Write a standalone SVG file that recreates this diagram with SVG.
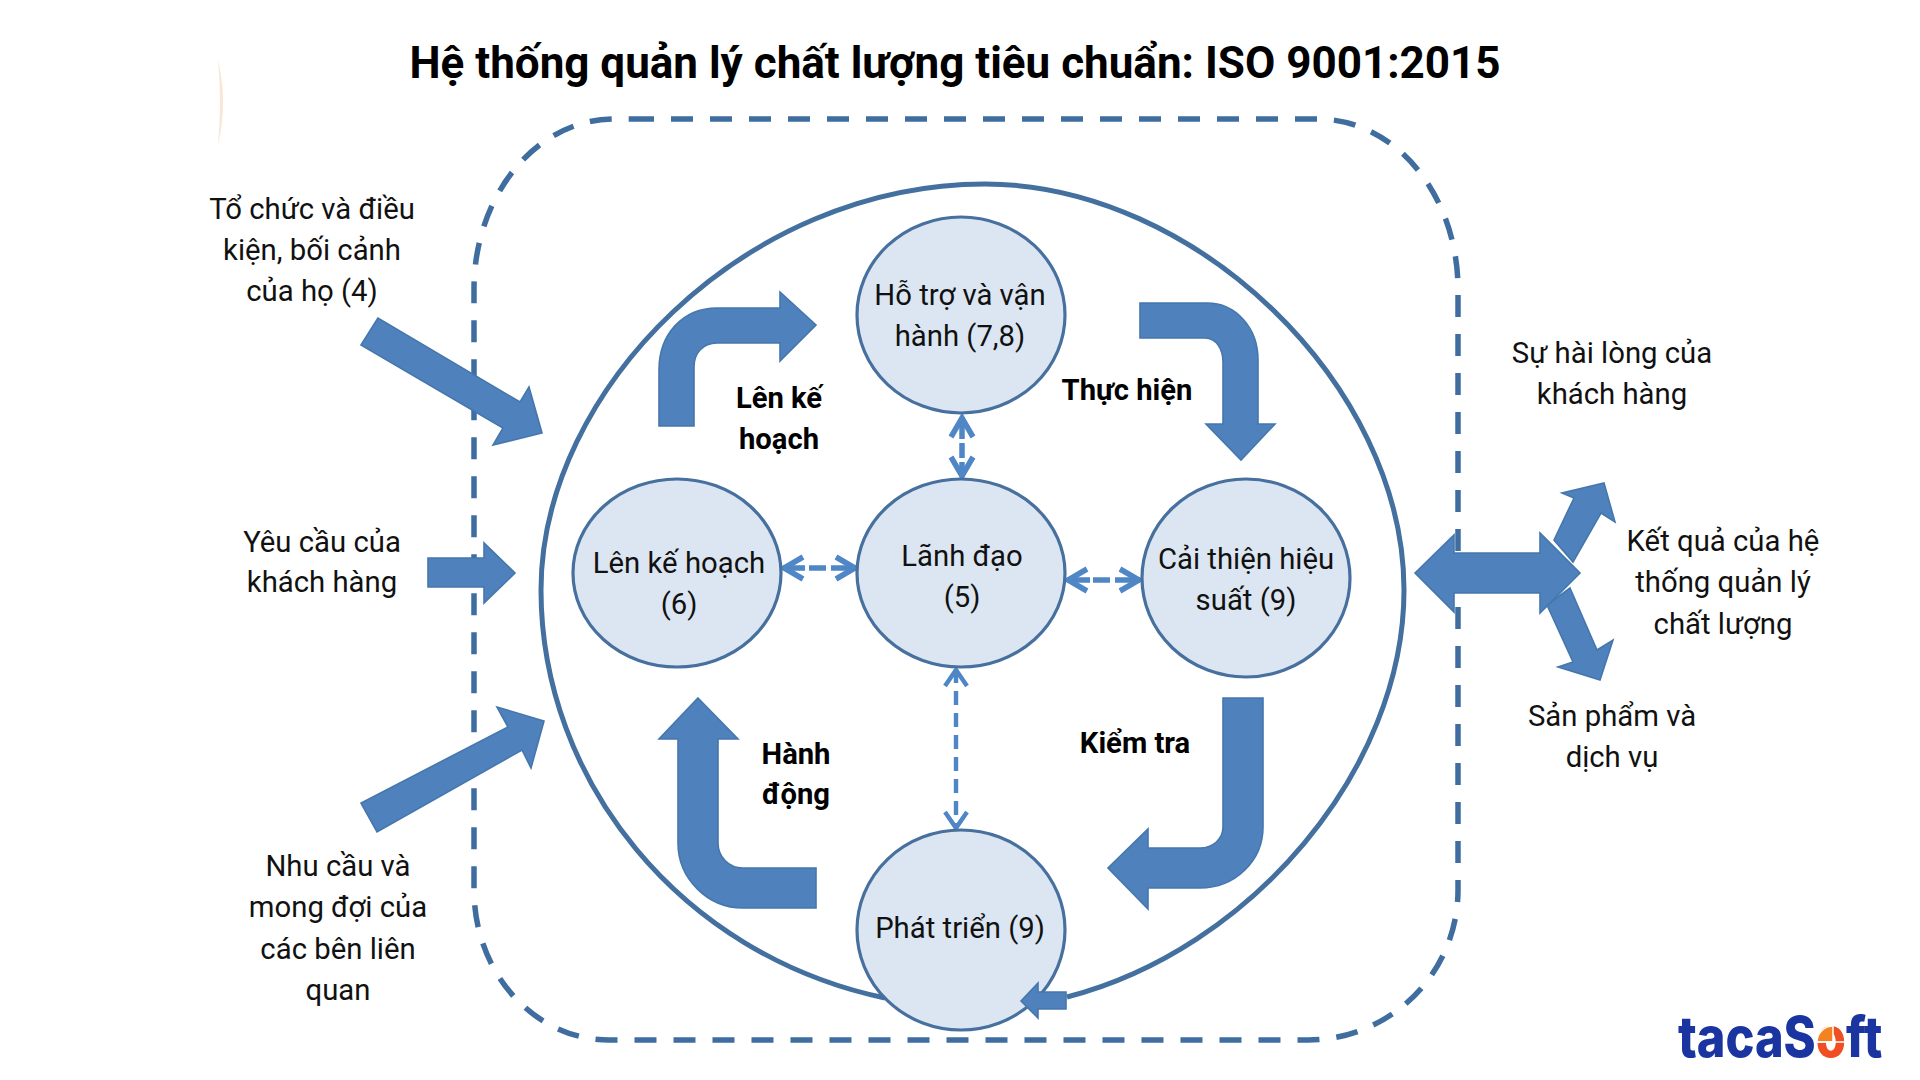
<svg xmlns="http://www.w3.org/2000/svg" width="1920" height="1080" viewBox="0 0 1920 1080">
<style>
text{font-family:Roboto,"Noto Sans",sans-serif;font-size:29.3px;fill:#111;text-anchor:middle}
.b{font-weight:700;fill:#000;font-size:29.2px}
.t{font-weight:700;font-size:44px;fill:#000}
.n{fill:#dce6f2;stroke:#47709f;stroke-width:3.2}
.a{fill:#4f81bd;stroke:#4577ad;stroke-width:1.6;stroke-linejoin:miter}
.d{fill:none;stroke:#4f86c6;stroke-width:5.5;marker-start:url(#h);marker-end:url(#h)}
.l{fill:none;stroke:#4f86c6;stroke-width:4.4;stroke-dasharray:14 8;marker-start:url(#k);marker-end:url(#k)}
</style>
<defs>
<marker id="h" viewBox="-24 -15 28 30" refX="0" refY="0" markerUnits="userSpaceOnUse" markerWidth="28" markerHeight="30" orient="auto-start-reverse">
<path d="M-20,-11 L-1,0 L-20,11" fill="none" stroke="#4f86c6" stroke-width="5.5"/>
</marker>
<marker id="k" viewBox="-24 -15 28 30" refX="0" refY="0" markerUnits="userSpaceOnUse" markerWidth="28" markerHeight="30" orient="auto-start-reverse">
<path d="M-17,-11 L-1,0 L-17,11" fill="none" stroke="#4f86c6" stroke-width="4.4"/>
</marker>
</defs>
<rect width="1920" height="1080" fill="#fff"/>
<path d="M218,60 Q228,102 218,145 Q222,102 218,60Z" fill="#fae6d4"/>
<text class="t" x="955" y="78">Hệ thống quản lý chất lượng tiêu chuẩn: ISO 9001:2015</text>
<g id="boundary"><path d="M632,119 H1318 A140,170 0 0 1 1458,289 V890 A150,150 0 0 1 1308,1040 H609 A135,150 0 0 1 474,890 V289 A140,170 0 0 1 614,119 H632Z" fill="none" stroke="#3f6d9f" stroke-width="5.5" stroke-dasharray="22 17"/></g>
<g id="system"><path d="M885,998 C680,955 541,780 541,590 C541,390 745,184 985,184 C1195,184 1404,385 1404,590 C1404,770 1250,950 1067,997" fill="none" stroke="#43709f" stroke-width="5"/></g>
<g id="connectors">
<path class="a" d="M378,318 L361,345 L503,428 L493,445 L542,433 L529,387 L520,402Z"/>
<path class="a" d="M428,558 H484 V543 L515,573 L484,603 V587 H428Z"/>
<path class="a" d="M361,803 L377,832 L522,750 L531,768 L544,721 L497,707 L508,727Z"/>
<path class="a" d="M659,426 V370 C659,335 682,308 717,308 H780 V292 L816,325 L780,361 V343 H717 C703,343 694,353 694,367 V426Z"/>
<path class="a" d="M1140,303 H1207 C1236,303 1258,328 1258,360 V424 H1275 L1241,460 L1206,424 H1223 V362 C1223,349 1216,338 1205,338 H1140Z"/>
<path class="a" d="M1223,698 H1263 V827 C1263,861 1235,888 1200,888 H1148 V909 L1108,868 L1148,829 V848 H1200 C1213,848 1223,839 1223,827Z"/>
<path class="a" d="M698,698 L738,739 H718 V843 C718,857 729,868 743,868 H816 V908 H743 C707,908 678,878 678,843 V739 H659Z"/>
<path class="a" d="M1554,540 L1574,498 L1562,493 L1604,483 L1615,522 L1601,513 L1573,562Z"/>
<path class="a" d="M1570,588 L1597,650 L1613,640 L1600,680 L1558,667 L1573,662 L1547,605Z"/>
<path class="a" d="M1415,573 L1454,535 V553 H1540 V533 L1580,573 L1540,613 V593 H1454 V612Z"/>
<path class="d" stroke-dasharray="22 4 15 4 15" d="M962,417 V477"/>
<path class="d" stroke-dasharray="22 4 17 5 25" d="M783,568 H856"/>
<path class="d" stroke-dasharray="23 3 17 5 25" d="M1067,580 H1140"/>
<path class="l" d="M956,669 V829"/>
</g>
<g id="node-support"><ellipse class="n" cx="961" cy="315" rx="104" ry="98"/><text x="960" y="305">Hỗ trợ và vận</text><text x="960" y="346">hành (7,8)</text></g>
<g id="node-plan"><ellipse class="n" cx="677" cy="573" rx="104" ry="94"/><text x="679" y="573">Lên kế hoạch</text><text x="679" y="614">(6)</text></g>
<g id="node-leadership"><ellipse class="n" cx="961" cy="573" rx="104" ry="94"/><text x="962" y="566">Lãnh đạo</text><text x="962" y="607">(5)</text></g>
<g id="node-improve"><ellipse class="n" cx="1246" cy="578" rx="104" ry="99"/><text x="1246" y="569">Cải thiện hiệu</text><text x="1246" y="610">suất (9)</text></g>
<g id="node-develop"><ellipse class="n" cx="961" cy="930" rx="104" ry="100"/><text x="960" y="938">Phát triển (9)</text></g>
<path id="arrow-small" class="a" d="M1021,1001 L1038,983 V992 H1066 V1009 H1038 V1018Z"/>
<g id="labels">
<text class="b" x="779" y="408">Lên kế</text><text class="b" x="779" y="449">hoạch</text>
<text class="b" x="1127" y="400">Thực hiện</text>
<text class="b" x="796" y="764">Hành</text><text class="b" x="796" y="804">động</text>
<text class="b" x="1135" y="753">Kiểm tra</text>
</g>
<g id="inputs">
<text x="312" y="219">Tổ chức và điều</text><text x="312" y="260">kiện, bối cảnh</text><text x="312" y="301">của họ (4)</text>
<text x="322" y="552">Yêu cầu của</text><text x="322" y="592">khách hàng</text>
<text x="338" y="876">Nhu cầu và</text><text x="338" y="917">mong đợi của</text><text x="338" y="959">các bên liên</text><text x="338" y="1000">quan</text>
</g>
<g id="outputs">
<text x="1612" y="363">Sự hài lòng của</text><text x="1612" y="404">khách hàng</text>
<text x="1723" y="551">Kết quả của hệ</text><text x="1723" y="592">thống quản lý</text><text x="1723" y="634">chất lượng</text>
<text x="1612" y="726">Sản phẩm và</text><text x="1612" y="767">dịch vụ</text>
</g>
<g id="logo">
<text transform="translate(1678,1057) scale(.87,1)" style="font-family:Inter,Roboto,sans-serif;font-size:56px;font-weight:800;fill:#1a35a0;text-anchor:start">tacaS<tspan fill="#f04e23">o</tspan>ft</text>
<path d="M1833,1042 V1026 A16,16 0 0 0 1817,1042Z" fill="#f58220" stroke="#fff" stroke-width="1.5"/>
<path d="M1817,1042 H1850" stroke="#fff" stroke-width="1.5"/>
</g>
</svg>
